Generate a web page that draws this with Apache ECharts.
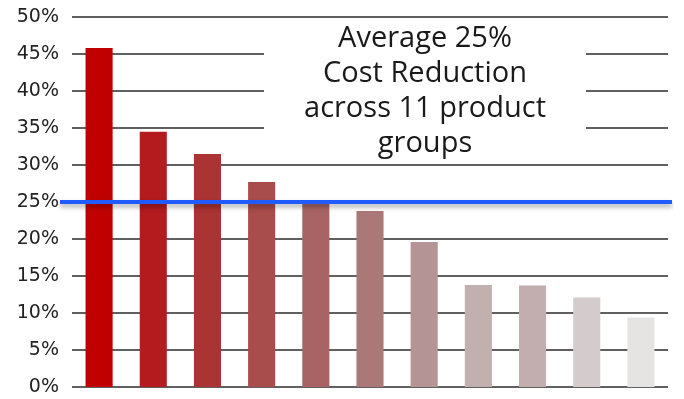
<!DOCTYPE html>
<html>
<head>
<meta charset="utf-8">
<script src="https://cdn.jsdelivr.net/npm/echarts@6/dist/echarts.min.js"></script>
<style>
html,body{margin:0;padding:0;background:#fff;}
#chart{width:684px;height:399px;}
</style>
</head>
<body>
<div id="chart"></div>
<script>
// Data
var categories = ['1','2','3','4','5','6','7','8','9','10','11'];
var reductions = [45.8, 34.5, 31.5, 27.7, 25.0, 23.8, 19.6, 13.8, 13.7, 12.1, 9.4];
var averageReduction = 25;
var yTicks = [0, 5, 10, 15, 20, 25, 30, 35, 40, 45, 50];
var annotation = 'Average 25%\nCost Reduction\nacross 11 product\ngroups';

// Styles
var barColors = ['#C00000','#B31B1E','#AA3333','#A84C4C','#A86464','#AB7878','#B49494','#C2AFAF','#C2AEAE','#D4CCCC','#E6E3E3'];

var chart = echarts.init(document.getElementById('chart'), null, {renderer: 'canvas'});
var option = {
  animation: false,
  backgroundColor: '#fff',
  graphic: [
    {
      type: 'text',
      x: 425,
      y: 21,
      z: 10,
      style: {
        text: annotation,
        align: 'center',
        verticalAlign: 'top',
        fontFamily: '"Open Sans", "Noto Sans", sans-serif',
        fontSize: 29,
        lineHeight: 35,
        fill: '#1a1a1a',
        backgroundColor: '#fff',
        padding: [0, 40, 0, 40]
      }
    }
  ],
  grid: [
    {left: 72, right: 16, top: 17, bottom: 12},
    {left: 60, right: 12, top: 17, bottom: 12}
  ],
  xAxis: [
    {
      type: 'category', gridIndex: 0, data: categories,
      axisLine: {show: false}, axisTick: {show: false}, axisLabel: {show: false}
    },
    {
      type: 'category', gridIndex: 1, data: ['', ''], boundaryGap: false, show: false
    }
  ],
  yAxis: [
    {
      type: 'value', gridIndex: 0,
      min: yTicks[0], max: yTicks[yTicks.length - 1], interval: yTicks[1] - yTicks[0],
      axisLine: {show: false}, axisTick: {show: false},
      axisLabel: {
        formatter: '{value}%', margin: 13,
        fontFamily: '"DejaVu Sans", sans-serif', fontSize: 19, color: '#222'
      },
      splitLine: {lineStyle: {color: '#2b2b2b', width: 1.6}}
    },
    {
      type: 'value', gridIndex: 1,
      min: yTicks[0], max: yTicks[yTicks.length - 1], show: false
    }
  ],
  series: [
    {
      type: 'bar',
      xAxisIndex: 0, yAxisIndex: 0,
      barWidth: '50%',
      data: reductions.map(function (v, i) {
        return {value: v, itemStyle: {color: barColors[i]}};
      }),
      z: 2
    },
    {
      type: 'line',
      xAxisIndex: 1, yAxisIndex: 1,
      data: [averageReduction, averageReduction],
      symbol: 'none',
      lineStyle: {
        color: '#1F5BFF', width: 4,
        shadowColor: 'rgba(0,0,0,0.35)', shadowBlur: 5, shadowOffsetY: 3
      },
      z: 5
    }
  ]
};
chart.setOption(option);
</script>
</body>
</html>
